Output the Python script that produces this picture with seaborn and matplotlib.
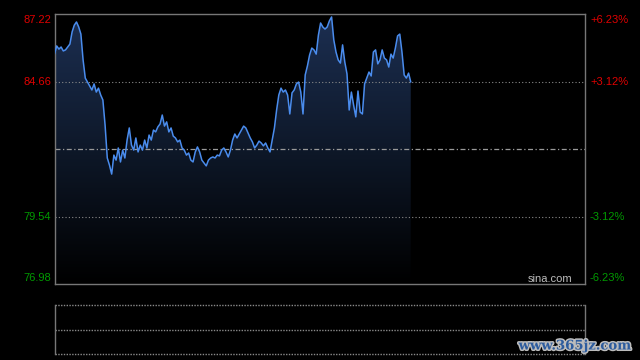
import numpy as np
import pandas as pd
import matplotlib
matplotlib.use("Agg")
import matplotlib.pyplot as plt
import matplotlib.patheffects as pe
from matplotlib.colors import LinearSegmentedColormap
import seaborn as sns

# ---- data ----
prices = [
    85.71, 86.02, 85.90, 85.98, 85.83, 85.87, 85.98, 86.09, 86.55, 86.81,
    86.93, 86.74, 86.47, 85.49, 84.80, 84.65, 84.50, 84.35, 84.58, 84.27,
    84.42, 84.16, 83.97, 83.02, 81.77, 81.50, 81.16, 81.88, 81.69, 82.15,
    81.62, 82.07, 81.77, 82.45, 82.91, 82.26, 82.07, 82.53, 82.00, 82.26,
    82.07, 82.45, 82.15, 82.64, 82.45, 82.83, 82.76, 82.95, 83.06, 83.40,
    82.98, 83.14, 82.76, 82.91, 82.60, 82.53, 82.38, 82.45, 82.15, 82.07,
    81.88, 81.96, 81.69, 81.62, 82.00, 82.19, 82.00, 81.69, 81.58, 81.47,
    81.69, 81.77, 81.81, 81.77, 81.88, 81.85, 82.07, 82.15, 82.00, 81.81,
    82.07, 82.45, 82.68, 82.53, 82.68, 82.83, 82.98, 82.91, 82.72, 82.53,
    82.38, 82.15, 82.26, 82.41, 82.34, 82.23, 82.34, 82.15, 82.00, 82.45,
    82.91, 83.59, 84.16, 84.42, 84.27, 84.35, 84.16, 83.44, 84.24, 84.35,
    84.58, 84.65, 84.27, 83.44, 84.92, 85.26, 85.68, 85.94, 85.87, 85.71,
    86.43, 86.89, 86.74, 86.66, 86.74, 86.97, 87.12, 86.25, 85.79, 85.49,
    85.37, 86.06, 85.41, 84.96, 83.59, 84.27, 83.78, 83.33, 84.31, 83.51,
    83.44, 84.58, 84.80, 85.03, 84.88, 85.79, 85.87, 85.34, 85.49, 85.87,
    85.56, 85.49, 85.22, 85.71, 85.56, 85.94, 86.40, 86.47, 85.79, 84.92,
    84.80, 84.99, 84.65,
]
total_minutes = 242
prev_close = 82.10
left_ticks = ["87.22", "84.66", "79.54", "76.98"]
left_vals = [87.22, 84.66, 79.54, 76.98]
right_ticks = ["+6.23%", "+3.12%", "-3.12%", "-6.23%"]

df = pd.DataFrame({"minute": np.arange(len(prices)), "price": prices})

sns.set_theme(style="dark", rc={
    "figure.facecolor": "black", "axes.facecolor": "black",
    "axes.edgecolor": "#777777",
})
plt.rcParams["font.family"] = ["Liberation Sans", "DejaVu Sans"]

W, H = 640, 360
fig = plt.figure(figsize=(6.4, 3.6), dpi=100, facecolor="black")

# main axes
L, R, T, B = 54.5, 584.5, 14.3, 284.3
ax = fig.add_axes([L / W, 1 - B / H, (R - L) / W, (B - T) / H])
ax.set_facecolor("black")
ymin, ymax = left_vals[-1], left_vals[0]

# gradient fill under the line
poly = ax.fill_between(df["minute"], df["price"], ymin, color="none", lw=0)
cmap = LinearSegmentedColormap.from_list("g", ["#000000", "#0e1829", "#1c2f52"])
grad = np.linspace(0, 1, 256).reshape(-1, 1)
im = ax.imshow(grad, aspect="auto", cmap=cmap, origin="lower",
               extent=[0, len(prices) - 1, ymin, ymax], zorder=1)
path = poly.get_paths()[0]
im.set_clip_path(path, transform=ax.transData)
ax.set_xlim(0, total_minutes - 1)
ax.set_ylim(ymin, ymax)

# grid lines
for v in (left_vals[1], left_vals[2]):
    ax.axhline(v, color="#8a8a8a", lw=0.8, ls=(0, (1, 2)), zorder=2)
ax.axhline(prev_close, color="#9a9a9a", lw=0.9, ls=(0, (4, 2, 1, 2)), zorder=2)

sns.lineplot(data=df, x="minute", y="price", ax=ax, color="#4a8ced",
             linewidth=1.1, zorder=3)

ax.set_xticks([])
ax.set_yticks([])
ax.set_xlabel("")
ax.set_ylabel("")
ax.grid(False)
for s in ax.spines.values():
    s.set_color("#777777")
    s.set_linewidth(1.0)
    s.set_visible(True)

# labels
cols = ["#e00000", "#e00000", "#009a00", "#009a00"]
ytxt = [20, 82, 217.3, 278]
for lab, rl, c, yp in zip(left_ticks, right_ticks, cols, ytxt):
    fy = 1 - yp / H
    fig.text(51 / W, fy, lab, color=c, fontsize=8, ha="right", va="center")
    fig.text(590 / W, fy, rl, color=c, fontsize=8, ha="left", va="center")

ax.text(0.978, 0.02, "sina.com", transform=ax.transAxes, color="#bdbdbd",
        fontsize=8, ha="right", va="center")

# lower panel
ax2 = fig.add_axes([L / W, 1 - 354.3 / H, (R - L) / W, (354.3 - 305) / H])
ax2.set_facecolor("black")
ax2.set_xlim(0, 1)
ax2.set_ylim(0, 2)
for v in (0, 1, 2):
    ax2.axhline(v, color="#8a8a8a", lw=1.0, ls=(0, (1, 1)), clip_on=False)
for side in ("top", "bottom"):
    ax2.spines[side].set_visible(False)
for side in ("left", "right"):
    ax2.spines[side].set_color("#777777")
    ax2.spines[side].set_linewidth(1.0)
ax2.set_xticks([])
ax2.set_yticks([])
ax2.grid(False)

# watermark
fig.text(575 / W, 1 - 346 / H, "www.365jz.com", fontsize=9.5,
         family="DejaVu Serif", weight="bold", color="#2d5c9e",
         ha="center", va="center",
         path_effects=[pe.Stroke(linewidth=2.2, foreground="#bcbcbc"), pe.Normal()])

fig.savefig("out.png", dpi=100, facecolor="black")
